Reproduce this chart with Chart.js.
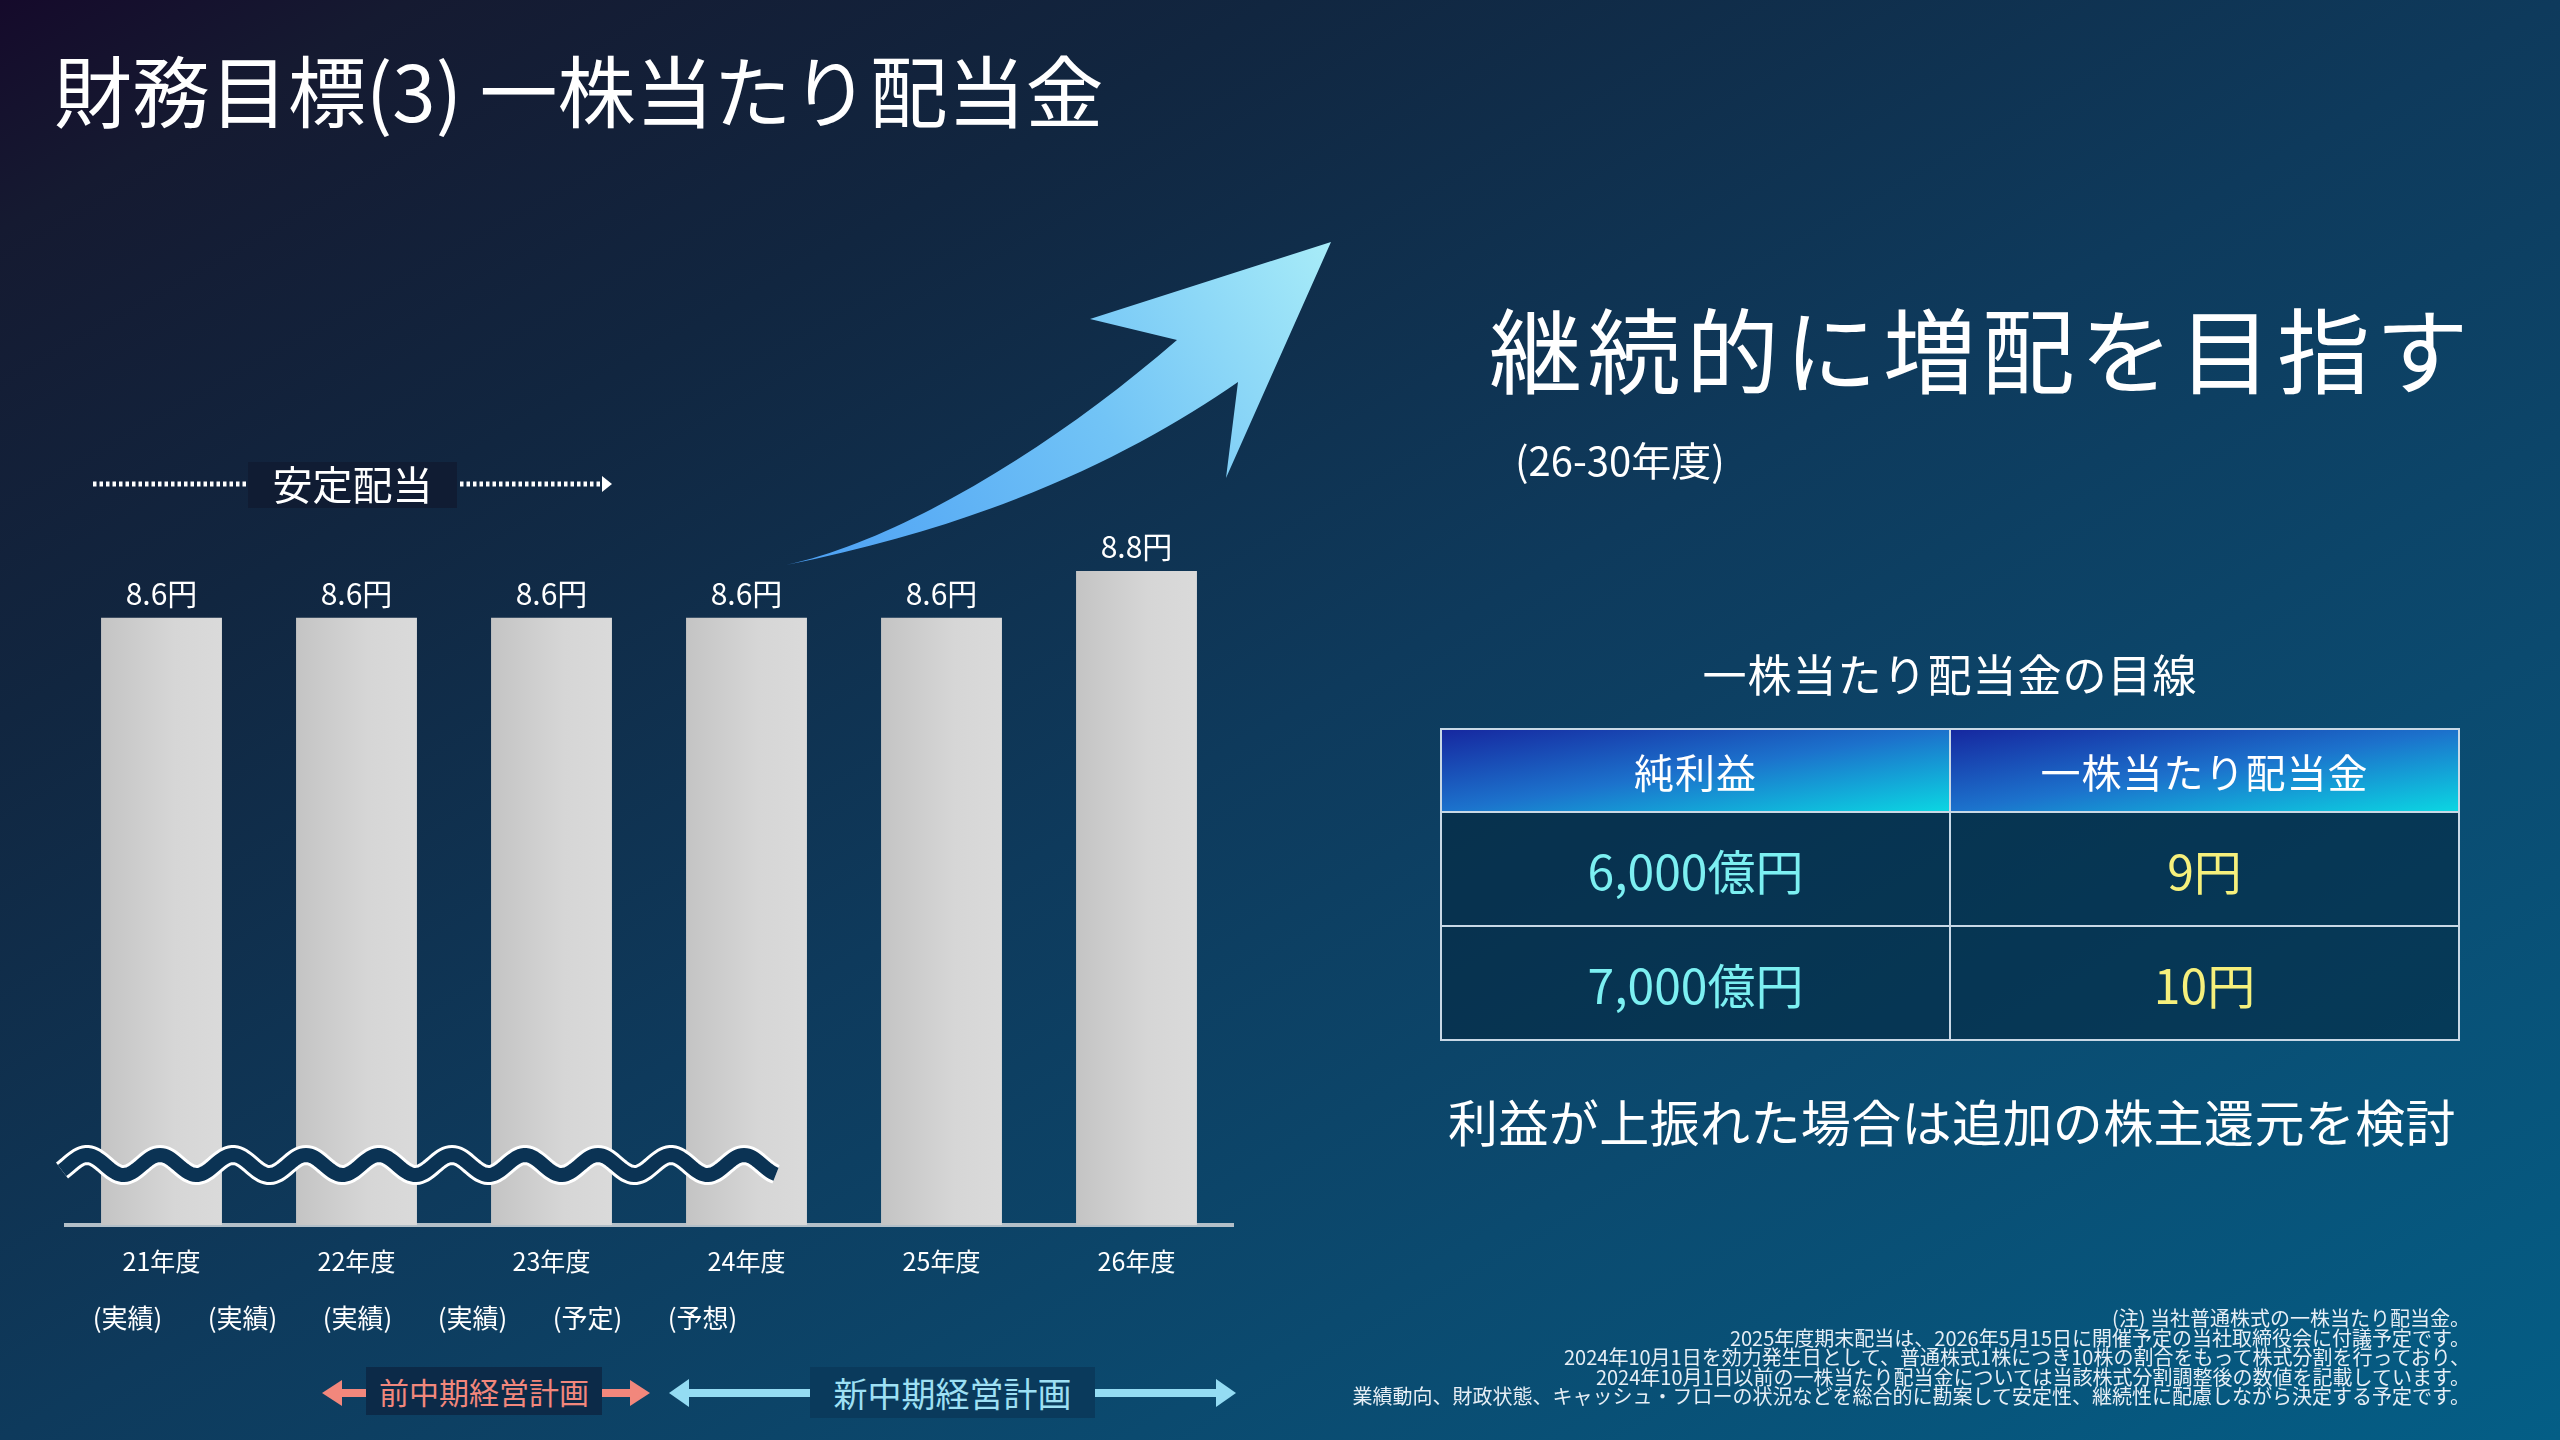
<!DOCTYPE html>
<html>
<head>
<meta charset="utf-8">
<script src="https://cdn.jsdelivr.net/npm/chart.js@4.4.1/dist/chart.umd.min.js"></script>
<style>
html,body{margin:0;padding:0;}
body{width:2560px;height:1440px;overflow:hidden;position:relative;
  background:linear-gradient(to bottom right,#150a2b 0%,#151a31 8%,#112640 25%,#0e3a5c 50%,#0b4a6f 72%,#045e86 100%);
  font-family:"Noto Sans CJK JP","Noto Sans",sans-serif;color:#fff;}
.abs{position:absolute;white-space:nowrap;}
#chartWrap{position:absolute;left:64px;top:473px;width:1170px;height:822px;z-index:1;}
#deco{position:absolute;left:0;top:0;z-index:2;pointer-events:none;}
.txt{z-index:3;}
#title{left:54px;top:49px;font-size:78px;line-height:78px;}
#headline{left:1489px;top:300px;font-size:93px;line-height:93px;letter-spacing:5.5px;}
#period{left:1515px;top:439px;font-size:40px;line-height:40px;}
#tblTitle{left:1440px;width:1020px;top:651px;font-size:44px;line-height:44px;text-align:center;letter-spacing:1px;}
#tbl{position:absolute;left:1440px;top:728px;width:1020px;border-collapse:collapse;z-index:3;table-layout:fixed;}
#tbl th{height:81px;border:2px solid #c8d8e6;font-size:40px;font-weight:normal;color:#fff;letter-spacing:1px;
  background:linear-gradient(to bottom right,#1628a0 0%,#1c72cc 50%,#0bd6e2 100%);padding:0;}
#tbl td{height:112px;border:2px solid #c8d8e6;font-size:48px;text-align:center;background:rgba(3,38,62,0.55);padding:0;}
#tbl td.ni{color:#7cf0f2;}
#tbl td.dps{color:#f6f07c;}
#extra{left:1440px;width:1024px;top:1094px;font-size:50px;line-height:52px;text-align:center;letter-spacing:0.4px;}
#notes{right:90px;top:1308px;font-size:20px;line-height:19.6px;text-align:right;color:#e6eef5;}
#stable{left:248px;top:462px;width:209px;height:46px;background:#101c33;font-size:40px;line-height:42px;text-align:center;}
#status{left:70px;top:1299px;display:flex;font-size:26px;line-height:36px;}
#status div{width:115px;text-align:center;}
#prevPlan{left:366px;top:1367px;width:236px;height:48px;background:#0c2a48;color:#f2877c;font-size:30px;line-height:48px;text-align:center;}
#newPlan{left:810px;top:1367px;width:285px;height:51px;background:#0a3a5c;color:#9ee0f4;font-size:34px;line-height:51px;text-align:center;}
</style>
</head>
<body>
<div id="chartWrap"><canvas id="c"></canvas></div>

<svg id="deco" width="2560" height="1440" viewBox="0 0 2560 1440">
  <defs>
    <linearGradient id="arrowGrad" x1="786" y1="565" x2="1331" y2="242" gradientUnits="userSpaceOnUse">
      <stop offset="0" stop-color="#4b9ff4"/>
      <stop offset="0.55" stop-color="#72c4f6"/>
      <stop offset="1" stop-color="#a8ecf8"/>
    </linearGradient>
  </defs>
  <path d="M786,565 C900,540 1050,450 1177,340 L1090,319 L1331,242 L1226,478 L1238,382 C1140,450 1000,522 786,565 Z" fill="url(#arrowGrad)"/>
  <line x1="93" y1="484" x2="246" y2="484" stroke="#ffffff" stroke-width="5" stroke-dasharray="3.5 3"/>
  <line x1="460" y1="484" x2="602" y2="484" stroke="#ffffff" stroke-width="5" stroke-dasharray="3.5 3"/>
  <polygon points="602,476 612,484 602,492" fill="#ffffff"/>
  <path id="wave" d="" fill="none" stroke="#ffffff" stroke-width="20" stroke-linecap="butt"/>
  <path id="wave2" d="" fill="none" stroke="#0b3354" stroke-width="14" stroke-linecap="butt"/>
  <line x1="338" y1="1393" x2="366" y2="1393" stroke="#f2877c" stroke-width="8"/>
  <polygon points="322,1393 342,1380 342,1406" fill="#f2877c"/>
  <line x1="602" y1="1393" x2="634" y2="1393" stroke="#f2877c" stroke-width="8"/>
  <polygon points="650,1393 630,1380 630,1406" fill="#f2877c"/>
  <line x1="685" y1="1393" x2="810" y2="1393" stroke="#94dcf3" stroke-width="8"/>
  <polygon points="669,1393 689,1379 689,1407" fill="#94dcf3"/>
  <line x1="1095" y1="1393" x2="1220" y2="1393" stroke="#94dcf3" stroke-width="8"/>
  <polygon points="1236,1393 1216,1379 1216,1407" fill="#94dcf3"/>
</svg>

<div id="title" class="abs txt">財務目標(3) 一株当たり配当金</div>
<div id="stable" class="abs txt">安定配当</div>
<div id="headline" class="abs txt">継続的に増配を目指す</div>
<div id="period" class="abs txt">(26-30年度)</div>
<div id="tblTitle" class="abs txt">一株当たり配当金の目線</div>
<table id="tbl"><thead><tr id="thRow"></tr></thead><tbody id="tbody"></tbody></table>
<div id="extra" class="abs txt">利益が上振れた場合は追加の株主還元を検討</div>
<div id="notes" class="abs txt"></div>
<div id="status" class="abs txt"></div>
<div id="prevPlan" class="abs txt">前中期経営計画</div>
<div id="newPlan" class="abs txt">新中期経営計画</div>

<script>
// ---- data ----
const categories = ['21年度', '22年度', '23年度', '24年度', '25年度', '26年度'];
const dividends = [8.6, 8.6, 8.6, 8.6, 8.6, 8.8];
const statusLabels = ['(実績)', '(実績)', '(実績)', '(実績)', '(予定)', '(予想)'];
const unit = '円';
const tableHeaders = ['純利益', '一株当たり配当金'];
const netIncomeTargets = ['6,000億円', '7,000億円'];
const dpsTargets = ['9円', '10円'];
const noteLines = [
  '(注) 当社普通株式の一株当たり配当金。',
  '2025年度期末配当は、2026年5月15日に開催予定の当社取締役会に付議予定です。',
  '2024年10月1日を効力発生日として、普通株式1株につき10株の割合をもって株式分割を行っており、',
  '2024年10月1日以前の一株当たり配当金については当該株式分割調整後の数値を記載しています。',
  '業績動向、財政状態、キャッシュ・フローの状況などを総合的に勘案して安定性、継続性に配慮しながら決定する予定です。'
];
const yAxisMin = 6.0;
const yAxisMax = 9.22;

// ---- html text parts ----
document.getElementById('thRow').innerHTML = tableHeaders.map(h => '<th>' + h + '</th>').join('');
document.getElementById('tbody').innerHTML = netIncomeTargets.map((n, i) =>
  '<tr><td class="ni">' + n + '</td><td class="dps">' + dpsTargets[i] + '</td></tr>').join('');
document.getElementById('notes').innerHTML = noteLines.map(l => '<div>' + l + '</div>').join('');
document.getElementById('status').innerHTML = statusLabels.map(l => '<div>' + l + '</div>').join('');

// ---- wave break mark ----
(function () {
  const x0 = 62, x1 = 777, cy = 1165, amp = 10, period = 73, phaseX = 87;
  let d = '';
  for (let x = x0; x <= x1; x += 2) {
    const y = cy - amp * Math.cos(2 * Math.PI * (x - phaseX) / period);
    d += (x === x0 ? 'M' : 'L') + x + ',' + y.toFixed(2) + ' ';
  }
  document.getElementById('wave').setAttribute('d', d);
  document.getElementById('wave2').setAttribute('d', d);
})();

// ---- chart ----
const barLabelPlugin = {
  id: 'barLabels',
  afterDatasetsDraw(chart) {
    const ctx = chart.ctx;
    const meta = chart.getDatasetMeta(0);
    ctx.save();
    ctx.font = '30px "Noto Sans CJK JP"';
    ctx.fillStyle = '#ffffff';
    ctx.textAlign = 'center';
    ctx.textBaseline = 'middle';
    meta.data.forEach((bar, i) => {
      ctx.fillText(dividends[i].toFixed(1) + unit, bar.x, bar.y - 24);
    });
    ctx.restore();
  }
};

new Chart(document.getElementById('c'), {
  type: 'bar',
  data: {
    labels: categories,
    datasets: [{
      data: dividends,
      backgroundColor: (context) => {
        const chart = context.chart;
        const area = chart.chartArea;
        if (!area || !chart.scales.x) return '#cfcfcf';
        const cx = chart.scales.x.getPixelForValue(context.dataIndex);
        const g = chart.ctx.createLinearGradient(cx - 60, 0, cx + 60, 0);
        g.addColorStop(0, '#c4c4c4');
        g.addColorStop(0.6, '#d6d6d6');
        g.addColorStop(1, '#dadada');
        return g;
      },
      borderWidth: 0,
      barPercentage: 0.62,
      categoryPercentage: 1.0
    }]
  },
  options: {
    responsive: true,
    maintainAspectRatio: false,
    devicePixelRatio: 1,
    animation: false,
    layout: { padding: 0 },
    plugins: { legend: { display: false }, tooltip: { enabled: false } },
    scales: {
      x: {
        grid: { display: false, drawTicks: false },
        border: { display: true, color: '#b3bfc8', width: 4 },
        ticks: { color: '#ffffff', font: { family: 'Noto Sans CJK JP', size: 25 }, padding: 21 },
        afterFit: (scale) => { scale.height = 70; }
      },
      y: {
        display: false,
        min: yAxisMin,
        max: yAxisMax
      }
    }
  },
  plugins: [barLabelPlugin]
});
</script>
</body>
</html>
